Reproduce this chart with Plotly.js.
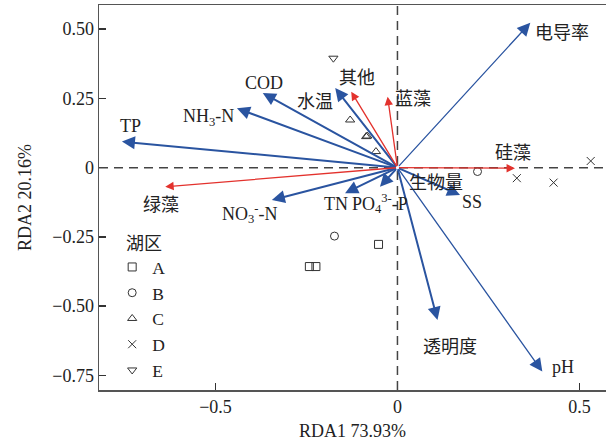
<!DOCTYPE html>
<html><head><meta charset="utf-8">
<script src="https://cdn.plot.ly/plotly-3.0.1.min.js"></script>
<style>html,body{margin:0;padding:0;background:#fff}#c{width:606px;height:448px}</style>
</head><body><div id="c"></div>
<script>
// environment variables (blue arrows)
var envNames = ['电导率','pH','透明度','SS','生物量','PO<sub>4</sub><sup>3-</sup>-P','TN','NO<sub>3</sub><sup>-</sup>-N','TP','NH<sub>3</sub>-N','COD','水温'];
var envX = [0.365, 0.398, 0.110, 0.172, 0.030, -0.048, -0.144, -0.345, -0.757, -0.441, -0.370, -0.171];
var envY = [0.523, -0.736, -0.550, -0.099, -0.040, -0.069, -0.092, -0.117, 0.094, 0.214, 0.269, 0.287];
// algae groups (red arrows)
var algNames = ['其他','蓝藻','硅藻','绿藻'];
var algX = [-0.127, -0.027, 0.323, -0.638];
var algY = [0.274, 0.256, -0.002, -0.069];
// samples by lake region
var groups = ['A','B','C','D','E'];
var legendTitle = '湖区';
var ptsX = {A:[-0.052,-0.242,-0.224], B:[-0.173,0.220], C:[-0.130,-0.086,-0.083,-0.059], D:[0.328,0.429,0.531], E:[-0.176]};
var ptsY = {A:[-0.277,-0.357,-0.357], B:[-0.247,-0.014], C:[0.172,0.112,0.114,0.058], D:[-0.038,-0.054,0.024], E:[0.395]};
var xTickVals = [-0.5, 0, 0.5];
var xTickText = ['\u22120.5','0','0.5'];
var yTickVals = [0.5, 0.25, 0, -0.25, -0.5, -0.75];
var yTickText = ['0.50','0.25','0','\u22120.25','\u22120.50','\u22120.75'];

// label offsets in pixels (style, not data)
var envOff = [[3,-10,'left'],[21,5,'center'],[13,-27,'center'],[12,-7,'center'],[28,-4,'center'],[0,-17,'center'],[-9,-11,'center'],[-22,-13,'center'],[9,16,'center'],[-28,-9,'center'],[1,10,'center'],[-20,-14,'center']];
var envHide = [false,false,false,false,true,false,false,false,false,false,false,false];
var algOff = [[6,14,'center'],[25,-2,'center'],[-2,15,'center'],[-4,-18,'center']];

var FONT = 'Liberation Serif, "Times New Roman", "Noto Sans CJK SC", serif';
var BLUE = '#2a54a0', RED = '#e3322d';
var symbols = {A:'square-open',B:'circle-open',C:'triangle-up-open',D:'x-thin-open',E:'triangle-down-open'};

var traces = groups.map(function(g){
  return {type:'scatter', mode:'markers', name:g, x:ptsX[g], y:ptsY[g],
    marker:{symbol:symbols[g], size:8, color:'#333', line:{width:1, color:'#333'}}};
});

var ann = [];
function addArrows(names, xs, ys, offs, color, w, hide, thin){
  for (var i=0;i<names.length;i++){
    if(!hide || !hide[i]){
      var tw = thin && thin[i];
      ann.push({x:xs[i], y:ys[i], ax:0, ay:0, xref:'x', yref:'y', axref:'x', ayref:'y',
        text:'', showarrow:true, arrowhead:2, arrowsize:tw?2:1.3, arrowwidth:tw?1.3:w, arrowcolor:color, standoff:0});
    }
    ann.push({x:xs[i], y:ys[i], xref:'x', yref:'y', text:names[i], showarrow:false,
      xshift:offs[i][0], yshift:offs[i][1], xanchor:offs[i][2], yanchor:'middle',
      font:{family:FONT, size:18, color:'#222'}});
  }
}
addArrows(envNames, envX, envY, envOff, BLUE, 2, envHide, [true,true]);
addArrows(algNames, algX, algY, algOff, RED, 1.3, null, null);
ann.push({xref:'paper', yref:'paper', x:0.049, y:0.38, xanchor:'left', yanchor:'middle', showarrow:false,
  text:legendTitle, font:{family:FONT, size:18, color:'#222'}});

var layout = {
  width:606, height:448,
  margin:{l:99, r:0, t:5, b:58},
  paper_bgcolor:'#fff', plot_bgcolor:'#fff',
  font:{family:FONT, size:18, color:'#222'},
  showlegend:true,
  legend:{x:0.026, y:0.366, xanchor:'left', yanchor:'top', bgcolor:'rgba(0,0,0,0)',
    font:{family:FONT, size:17.5, color:'#222'}, itemwidth:30, tracegroupgap:0},
  xaxis:{range:[-0.82,0.573], showgrid:false, zeroline:false, showline:true, linecolor:'#555', linewidth:1.5,
    mirror:true, ticks:'inside', ticklen:7, tickwidth:1.5, tickcolor:'#333',
    tickvals:xTickVals, ticktext:xTickText, tickfont:{family:FONT,size:18,color:'#222'},
    title:{text:'RDA1 73.93%', font:{family:FONT,size:18,color:'#222'}, standoff:8}},
  yaxis:{range:[-0.8025,0.587], showgrid:false, zeroline:false, showline:true, linecolor:'#555', linewidth:1.5,
    ticks:'inside', ticklen:7, tickwidth:1.5, tickcolor:'#333',
    tickvals:yTickVals, ticktext:yTickText, tickfont:{family:FONT,size:18,color:'#222'},
    title:{text:'RDA2 20.16%', font:{family:FONT,size:18,color:'#222'}, standoff:16}},
  shapes:[
    {type:'line', xref:'x', yref:'paper', x0:0, x1:0, y0:0, y1:1, line:{color:'#444', width:1.5, dash:'9px,6px'}},
    {type:'line', xref:'paper', yref:'y', x0:0, x1:1, y0:0, y1:0, line:{color:'#444', width:1.5, dash:'9px,6px'}}
  ],
  annotations:ann
};
Plotly.newPlot('c', traces, layout, {staticPlot:true});
</script></body></html>
